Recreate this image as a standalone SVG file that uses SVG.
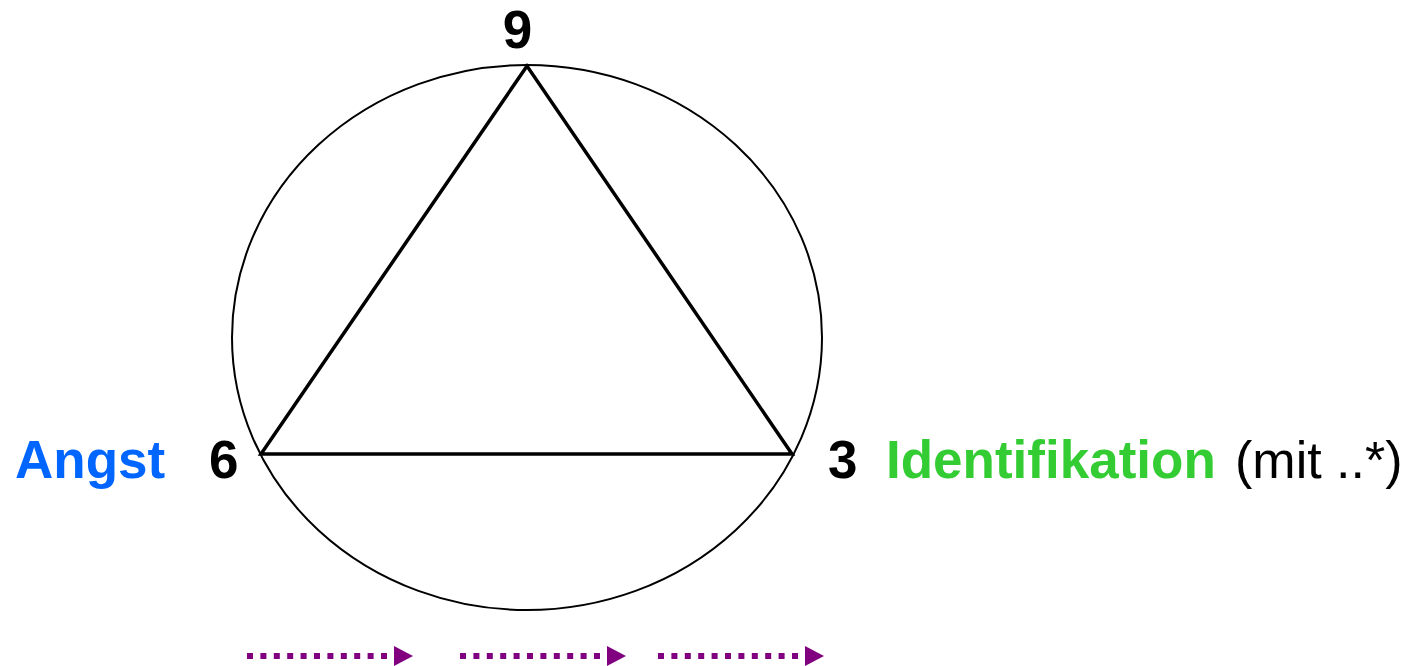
<svg xmlns="http://www.w3.org/2000/svg" width="1411" height="666" viewBox="0 0 1411 666">
<style>
.lbl{font-family:"Liberation Sans",Arial,sans-serif;font-size:53px;font-weight:bold}
.reg{font-family:"Liberation Sans",Arial,sans-serif;font-size:52px}
.dash{stroke:#800080;stroke-width:6;stroke-dasharray:6 7.4;fill:none}
.head{fill:#800080}
</style>
<rect width="1411" height="666" fill="#fff"/>
<g id="circle"><ellipse cx="527" cy="337.5" rx="295" ry="272.5" fill="none" stroke="#000" stroke-width="2"/></g>
<g id="triangle"><polygon points="527,66 261,454 792,454" fill="none" stroke="#000" stroke-width="3.5" stroke-linejoin="miter"/></g>
<g id="node9"><text class="lbl" x="517.5" y="48" text-anchor="middle">9</text></g>
<g id="node6">
<text class="lbl" x="15" y="478" fill="#0066ff">Angst</text>
<text class="lbl" x="209" y="478">6</text>
</g>
<g id="node3">
<text class="lbl" x="828" y="478">3</text>
<text class="lbl" x="886" y="478" fill="#33cc33">Identifikation</text>
<text class="reg" x="1235" y="478">(mit ..*)</text>
</g>
<g id="connectors">
<line class="dash" x1="247" y1="656" x2="387" y2="656"/>
<polygon class="head" points="394,646 413,656 394,666"/>
<line class="dash" x1="460" y1="656" x2="600" y2="656"/>
<polygon class="head" points="607,646 626,656 607,666"/>
<line class="dash" x1="658" y1="656" x2="798" y2="656"/>
<polygon class="head" points="805,646 824,656 805,666"/>
</g>
</svg>
